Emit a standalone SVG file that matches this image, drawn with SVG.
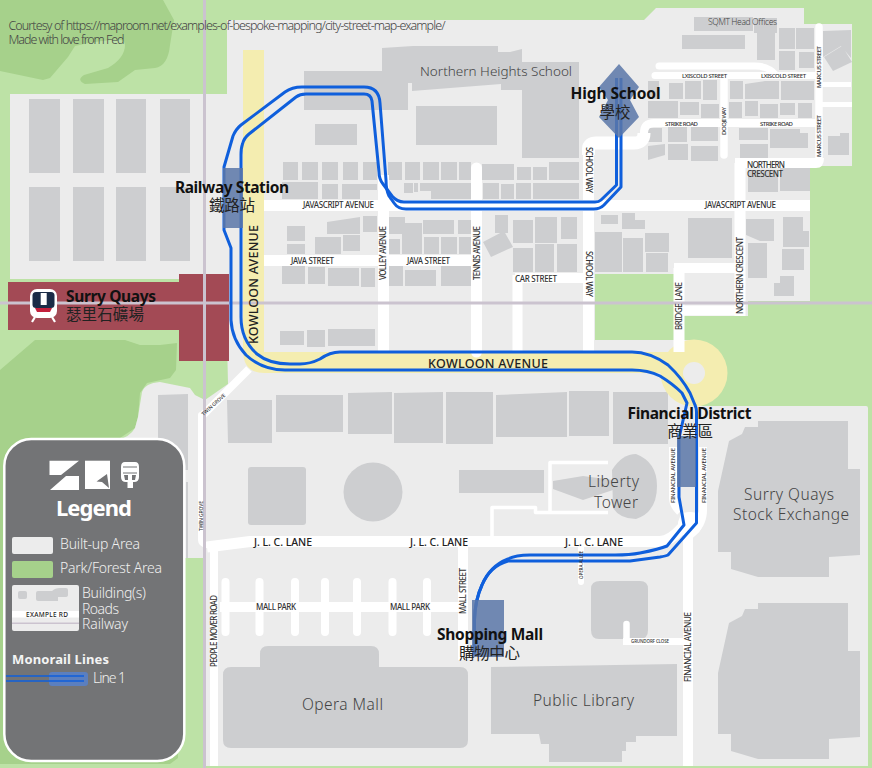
<svg xmlns="http://www.w3.org/2000/svg" width="872" height="768" viewBox="0 0 872 768">
<style>
text{font-family:"Noto Sans","Open Sans","Noto Sans CJK TC",sans-serif}
.b{fill:#cdced0;stroke:none}
.r{fill:none;stroke:#fff;stroke-linejoin:round}
.c{stroke-linecap:round}
.m{fill:none;stroke:#0f5fdc;stroke-width:3;stroke-linejoin:round}
.s{fill:#5a77a8;fill-opacity:.85}
.st{font-weight:700;font-size:15.500px;fill:#111}
.zh{font-family:"Noto Sans CJK TC","Noto Sans",sans-serif;font-size:15.500px;fill:#222}
.pl{font-size:15.500px;fill:#444;font-weight:300}
.rd{font-size:8px;fill:#333;font-weight:500}
.rb{font-size:10.500px;fill:#222;font-weight:500}
.lg{font-size:14px;fill:#f0f0f0;font-weight:300}
</style>
<rect width="872" height="768" fill="#bde2a6"/>
<g id="parks" fill="#a6d18b">
<path d="M0 0H163L174 20L170 45Q168 66 155 68L135 70L118 82L85 84Q76 80 84 75L108 68Q125 58 125 45Q125 38 110 40Q90 42 75 46L68 57L50 78L43 80L0 71Z"/>
<path d="M0 370L35 340H125L140 345H160L177 343L176 370L170 378L147 383L140 393L138 417L135 428L117 440V700H178V758L170 764H0Z"/>
</g>
<g id="built-up" fill="#ececec">
<path d="M227 20H644L656 8H804V24H852V166H810V301H748V316H684V352H674V274H595V352H227Z"/>
<path d="M227 340H690V406H866Q868 406 868 408V766H205V400L228 384Z"/>
<path d="M205 400L195 395L190 388L160 382Q145 383 142 392L138 417L135 428Q130 437 117 440V558H205Z"/>
<rect x="10" y="94" width="218" height="185"/>
</g>
<g id="buildings">
<path class="b" d="M29 99H60V173H29ZM73 99H104V173H73ZM116 99H146V173H116ZM160 99H190V173H160ZM29 187H60V261H29ZM73 187H104V261H73ZM116 187H146V261H116ZM160 187H190V261H160Z"/>
<path class="b" d="M304 71H382V48L413 46H498V52H510L522 49V62H579V158H522V90H501V84L412 91V83H408V110H304Z"/>
<path class="b" d="M416 106H497V145H416ZM315 124H357V145H315Z"/>
<path class="b" d="M283 162h15v18h-15zM302 162h16v18h-16zM322 162h16v18h-16zM343 162h15v18h-15zM363 162h14v18h-14zM388 162h14v18h-14zM405 162h15v18h-15zM423 162h16v18h-16zM441 162h16v18h-16zM459 162h12v18h-12zM482 164h32v16h-32zM517 167h14v13h-14zM533 167h14v13h-14zM549 162h30v18h-30z"/>
<path class="b" d="M282 182h36v17h-36zM322 184h16v15h-16zM342 184h35v6h-17v9h-18zM404 183h9v10h-9zM414 183h4v9h-4zM420 183h51v16h-40v-8h-11zM483 183h16v16h-16zM501 184h13v15h-13zM516 183h15v16h-15zM533 183h46v16h-46z"/>
<path class="b" d="M287 226h18v15h-18zM287 244h18v10h-18zM327 222l33-5v17h-33zM363 216h14v16h-14zM315 237h26v17h-26zM343 235h17v16h-17zM389 217h16v17h-16zM389 239h11v15h-11zM402 234v-11h20v31h-20zM423 220h31v14h-31zM458 220h13v14h-13zM424 237h15v17h-15zM441 237h16v17h-16zM459 237h12v17h-12z"/>
<path class="b" d="M282 266h23v18h-23zM308 267h17v17h-17zM328 268h31v18h-31zM361 268h14v19h-14zM389 266h14v20h-14zM405 270h31v16h-31zM441 266h30v20h-30zM280 331h24v14h-24zM307 330h18v17h-18zM328 329h47v17h-47z"/>
<path class="b" d="M495 215h13v18h-13zM483 242l21-11l9 16l-22 10zM513 220h20v23h-20zM535 217h22v26h-22zM561 217h16v22h-16zM513 248h20v24h-20zM535 244h19v28h-19zM557 244h20v28h-20zM601 215h17v9h-17zM622 213h13v7h10v9h-23zM595 232h27v40h-27zM623 238h20v34h-20zM645 233h24v19h-24zM646 253h22v19h-22zM688 218h44v40h-44zM746 219h28v22h-14l-14-6zM748 243h19v35h-19zM783 217h20v14h6v16h-26zM782 249h22v21h-22zM774 283h6v-7h14v20h-20z"/>
<path class="b" d="M694 17h59v14h-59zM754 18h23v15h-2v27h-18v-27h-3zM682 35h63v14h-63zM779 28h16v21h-16zM796 28h18v21h-18zM779 51h16v19h-16zM799 52h15v16h-15zM823 31l28-1v28l-10-12l-18 11zM824 57l18-11l10 16l-19 9z"/>
<path class="b" d="M648 81h11v18h-11zM669 83h14v16h-14zM685 81h16v18h-16zM703 80h14v20h-14zM730 81h13v18h-13zM745 84l20-3h14v18h-34zM781 81h33v19h-33zM648 101h30v17h-30zM680 102h19v13h-19zM701 104h18v14h-18zM729 102h13v16h-13zM745 101h13v15h-13zM760 104h18v14h-18zM780 103h15v12h-15zM798 103h14v15h-14z"/>
<path class="b" d="M648 128h14v14h-14zM668 127h19v15h-19zM691 127h27v14h-27zM739 128h29v12h-29zM770 129h30v4h8v15h-38zM648 146l17-2v11l-17 5zM668 144h20v16h-20zM691 146h27v15h-27zM740 144h28v14h-28zM828 136h12v-3h9v22h-21zM748 170h30v22h-30zM780 168h30v23h-30z"/>
<path class="b" d="M158 395L188 394V470H158ZM186 482h2v76h-2zM227 400H272V443H228ZM276 395H343V432H276ZM348 393L392 392V434H348ZM394 393L443 392V443H394ZM446 392H493V444H446ZM496 395L567 392V437H496ZM569 391H609V436H569ZM613 392H668V444H613Z"/>
<rect class="b" x="248" y="467" width="58" height="58" rx="3"/>
<circle class="b" cx="373" cy="492" r="29.500"/>
<path class="b" d="M459 470H544V493H459ZM553 481L583 476L613 480V490L583 500L553 489Z"/>
<path class="b" d="M612 470Q622 454 636 454Q657 462 657 486Q657 512 636 519Q620 519 613 508Z"/>
<path class="b" d="M600 581H640Q648 581 648 589V630Q648 639 640 639H599Q591 639 591 630V589Q591 581 600 581Z"/>
<path class="b" d="M223 675Q223 667 231 667H260V654Q260 646 268 646H371Q379 646 379 654V667H460Q468 667 468 675V740Q468 748 460 748H231Q223 748 223 740Z"/>
<path class="b" d="M491 667L677 664V736H636V742H626V751H622V762H549V744H541L539 734H491Z"/>
<path class="b" d="M758 421H848V469H860V555L829 557V577H758L731 569V552H718V491L729 441L742 434L745 427H758Z"/>
<path class="b" d="M758 603H848V651H860V737L829 739V759H758L731 751V734H718V673L729 623L742 616L745 609H758Z"/>
</g>
<g id="avenue" fill="#f4edb0">
<path d="M243 50H264V352H694V373H264Q243 373 243 350Z"/>
<circle cx="694" cy="373" r="33.500"/>
<circle cx="694" cy="373" r="11" fill="#ececec"/>
</g>
<g id="roads">
<path class="r" stroke-width="11" d="M264 205.500H810M264 260.500H471M383.500 175V352M588.500 352V150M679 352V268M740 316V163"/>
<path class="r c" stroke-width="11" d="M476.500 168V352"/>
<path class="r" stroke-width="13" d="M588.500 155V149Q588.500 143 596 143H634Q644 143 644 133"/>
<path class="r" stroke-width="8" d="M644 133Q644 123 654 123H819"/>
<path class="r c" stroke-width="7.500" d="M819 27V158"/>
<path class="r" stroke-width="10" d="M735 163H816Q819 163 819 158"/>
<path class="r" stroke-width="10" d="M674 268H740M684 310.500H745"/>
<path class="r c" stroke-width="7" d="M655 75.500H817M659 66H755Q768 66 776 75"/>
<path class="r" stroke-width="5" d="M820 84.500H851M820 104.500H852"/>
<path class="r c" stroke-width="7.500" d="M724 79V155"/>
<path class="r" stroke-width="10" d="M515 278H585M517.500 275V352"/>
<path class="r" stroke-width="8" d="M249 369L201 417"/>
<path class="r c" stroke-width="6" d="M201 415V540Q201 544 207 545"/>
<path class="r" stroke-width="11" d="M207 547L250 541.500H660Q670 541 680 530L690 520"/>
<path class="r" stroke-width="8" d="M214 548V766"/>
<path class="r" stroke-width="10" d="M688 530V766M463 547V660"/>
<path class="r" stroke-width="10" d="M220 607H460"/>
<path class="r c" stroke-width="8" d="M225.500 582V632M259.500 582V632M295 582V632M325 582V632M357 582V632M392.500 582V632M427 582V632"/>
<path class="r" stroke-width="8" d="M673 447V498Q673 505 680 512M703 447V510Q703 525 690 535"/>
<path class="r" stroke-width="5" d="M680 515H700"/>
<circle cx="690" cy="524" r="12" fill="#fff"/>
<path class="r" stroke-width="3.500" d="M492 536V507.500H535.500V512.500H608M550 511V462.500H608"/>
<path class="r" stroke-width="7" d="M623 641.500H684"/>
<path class="r c" stroke-width="6.500" d="M626.500 624V641"/>
<path class="r c" stroke-width="6" d="M581 547V582"/>
</g>
<g id="railway" fill="#cbc3cf">
<rect x="8" y="282" width="221" height="48" fill="#a34a55"/>
<rect x="179" y="274" width="50" height="87" fill="#a34a55"/>
<rect x="203" y="0" width="3" height="768"/>
<rect x="0" y="301.500" width="872" height="3"/>
</g>
<g id="connectors">
<path class="m" d="M616.500 78V185L601 200Q599 202 595 202H404Q397 202 392 196L383 184Q379 179 379 172L372 101Q371 94 364 94H306Q300 94 296 97L249 134Q244 138 242.500 144Q241 148 241 155V317Q241 340 257 354Q269 364 290 364H300Q310 364 320 359Q330 352 340 352H632Q650 352 668 365Q682 378 690 393L695 405Q696.500 408 696.500 412V523L668 555Q666 556 660 557L630 561H508Q490 566 482 585Q475 600 474.500 620V655"/>
<path class="m" d="M621 78V187L604 205Q600 209 594 209H406Q398 209 394 203L389 196Q386 190 386 180L380 103Q379 87 364 87H302Q292 87 285 92L241 125Q236 129 233 136L224 167V230L231 248V320Q232 340 246 355Q262 370 285 370H632Q648 370 660 376Q673 384 682 393L687 403L679 438V497L684 525L667 546Q660 549 640 553Q630 555 615 555H530Q515 555 508 559Q490 566 482 585Q475 600 474.500 620V655"/>
</g>
<g id="node-railway-station">
<rect class="s" x="223" y="168" width="20" height="60"/>
<text class="st" x="175" y="193" textLength="114">Railway Station</text>
<text class="zh" x="209" y="211" textLength="46">鐵路站</text>
</g>
<g id="node-high-school">
<path class="s" d="M619 64L639 87L630 100L639 117L619 138L599 117L608 100L599 87Z"/>
<text class="st" x="570.500" y="99" textLength="90">High School</text>
<text class="zh" x="599.500" y="118" textLength="31">學校</text>
</g>
<g id="node-financial-district">
<rect class="s" x="677" y="436" width="19" height="51"/>
<text class="st" x="627.500" y="419" textLength="124">Financial District</text>
<text class="zh" x="667" y="437" textLength="46">商業區</text>
</g>
<g id="node-shopping-mall">
<rect class="s" x="472" y="600" width="32" height="57"/>
<text class="st" x="437" y="640" textLength="106">Shopping Mall</text>
<text class="zh" x="459" y="659" textLength="61">購物中心</text>
</g>
<g id="node-surry-quays">
<rect x="30" y="289" width="27" height="29" rx="7" fill="#fff"/>
<rect x="32.500" y="292" width="22" height="16" rx="3.500" fill="#1b2c47"/>
<rect x="40.700" y="293" width="6" height="12" fill="#fff"/>
<path d="M35 308H52L50 312H37Z" fill="#c3203c"/>
<path d="M35 317L32 322M52 317L55 322" stroke="#fff" stroke-width="2.200" fill="none"/>
<text class="st" x="66" y="302" textLength="90">Surry Quays</text>
<text class="zh" x="66" y="320" textLength="78">瑟里石礦場</text>
</g>
<g id="place-labels" class="pl">
<text x="420" y="76" textLength="152" style="font-size:13.500px">Northern Heights School</text>
<text x="708" y="25" textLength="69" style="font-size:8.500px">SQMT Head Offices</text>
<text x="302" y="710" textLength="81">Opera Mall</text>
<text x="533" y="706" textLength="101">Public Library</text>
<text x="588" y="487" textLength="51">Liberty</text>
<text x="594" y="508" textLength="44">Tower</text>
<text x="744" y="500" textLength="90">Surry Quays</text>
<text x="733" y="520" textLength="116">Stock Exchange</text>
</g>
<g id="road-labels">
<text class="rb" x="428" y="368" textLength="120" style="font-size:12.500px">KOWLOON AVENUE</text>
<text class="rb" transform="translate(258,344) rotate(-90)" textLength="119" style="font-size:12.500px">KOWLOON AVENUE</text>
<text class="rd" x="303" y="208" textLength="71">JAVASCRIPT AVENUE</text>
<text class="rd" x="705" y="208" textLength="71">JAVASCRIPT AVENUE</text>
<text class="rd" x="291" y="263.500" textLength="43">JAVA STREET</text>
<text class="rd" x="407" y="263.500" textLength="43">JAVA STREET</text>
<text class="rd" transform="translate(386,280) rotate(-90)" textLength="54">VOLLEY AVENUE</text>
<text class="rd" transform="translate(480,280) rotate(-90)" textLength="54">TENNIS AVENUE</text>
<text class="rd" transform="translate(586,147) rotate(90)" textLength="46">SCHOOL WAY</text>
<text class="rd" transform="translate(586,251) rotate(90)" textLength="46">SCHOOL WAY</text>
<text class="rd" x="515" y="281.500" textLength="42">CAR STREET</text>
<text class="rd" transform="translate(682,330) rotate(-90)" textLength="48" xml:space="preserve">BRIDGE  LANE</text>
<text class="rd" transform="translate(743,314) rotate(-90)" textLength="77">NORTHERN CRESCENT</text>
<text class="rd" x="747" y="167.500" textLength="38">NORTHERN</text>
<text class="rd" x="747" y="177" textLength="36">CRESCENT</text>
<text class="rd" x="682" y="78" textLength="45" style="font-size:6px">LXISCOLD STREET</text>
<text class="rd" x="761" y="78" textLength="45" style="font-size:6px">LXISCOLD STREET</text>
<text class="rd" x="665" y="125.500" textLength="33" style="font-size:6px">STRIKE ROAD</text>
<text class="rd" x="760" y="125.500" textLength="33" style="font-size:6px">STRIKE ROAD</text>
<text class="rd" transform="translate(726,135) rotate(-90)" textLength="28" style="font-size:6px">DOOJI WAY</text>
<text class="rd" transform="translate(821,88) rotate(-90)" textLength="42" style="font-size:6px">MARCUS STREET</text>
<text class="rd" transform="translate(821,157) rotate(-90)" textLength="42" style="font-size:6px">MARCUS STREET</text>
<text class="rd" transform="translate(203.500,416) rotate(-42)" textLength="30" style="font-size:5px">TWIN GROVE</text>
<text class="rd" transform="translate(203,531) rotate(-90)" textLength="30" style="font-size:5px">TWIN GROVE</text>
<text class="rb" x="254" y="545.500" textLength="58">J. L. C. LANE</text>
<text class="rb" x="410" y="545.500" textLength="58">J. L. C. LANE</text>
<text class="rb" x="565" y="545.500" textLength="58">J. L. C. LANE</text>
<text class="rd" transform="translate(216.500,667) rotate(-90)" textLength="72">PEOPLE MOVER ROAD</text>
<text class="rd" x="256" y="610" textLength="40">MALL PARK</text>
<text class="rd" x="390" y="610" textLength="40">MALL PARK</text>
<text class="rd" transform="translate(465.500,614) rotate(-90)" textLength="46">MALL STREET</text>
<text class="rd" transform="translate(675,503) rotate(-90)" textLength="55" style="font-size:6px">FINANCIAL AVENUE</text>
<text class="rd" transform="translate(706,503) rotate(-90)" textLength="55" style="font-size:6px">FINANCIAL AVENUE</text>
<text class="rd" transform="translate(690.500,682) rotate(-90)" textLength="70">FINANCIAL AVENUE</text>
<text class="rd" transform="translate(582.500,579) rotate(-90)" textLength="28" style="font-size:4.500px">OPERA ALLEE</text>
<text class="rd" x="631" y="642.500" textLength="38" style="font-size:4.500px">GRUNDORF CLOSE</text>
</g>
<g id="credit" font-size="12.500" fill="#444" font-weight="300">
<text x="8.500" y="29.500" textLength="437">Courtesy of https://maproom.net/examples-of-bespoke-mapping/city-street-map-example/</text>
<text x="8.500" y="43.500" textLength="116">Made with love from Fed</text>
</g>
<g id="legend">
<rect x="4.300" y="439" width="180" height="322" rx="27" fill="#737476" stroke="#fff" stroke-width="2.500"/>
<path d="M49.500 460.700H79L61 475H49.500ZM79 476V490H50L66 476Z" fill="#fff"/>
<path d="M85 460.700H110V489H85Z" fill="#fff"/>
<path d="M96.500 481.500L107 474L109 488L102 482Z" fill="#737476"/>
<path d="M125 462H135Q139 462 139 467V477Q139 482 134 482H133V488H127.500V482H126Q121 482 121 477V467Q121 462 125 462Z" fill="#fff"/>
<path d="M123 467H137M123 473H137" stroke="#737476" stroke-width="1" fill="none"/>
<path d="M124 475H128V480H125ZM136 475H132V480H135Z" fill="#737476"/>
<text x="56" y="516" textLength="76" font-size="22" font-weight="700" fill="#fff">Legend</text>
<rect x="12" y="537" width="41" height="17" rx="2" fill="#ececec"/>
<text class="lg" x="60" y="549" textLength="80">Built-up Area</text>
<rect x="12" y="561" width="41" height="17" rx="2" fill="#a6d18b"/>
<text class="lg" x="60" y="573" textLength="102">Park/Forest Area</text>
<rect x="12" y="585" width="67" height="46" rx="2" fill="#ececec"/>
<rect x="18" y="591" width="9" height="8" rx="2" fill="#cdced0"/>
<path d="M38 591H52Q55 588 60 588H66Q68 588 68 590V595Q68 597 65 597H58V601H38Q36 601 36 599V593Q36 591 38 591Z" fill="#cdced0"/>
<rect x="12" y="611" width="67" height="6.500" fill="#fff"/>
<rect x="12" y="622.500" width="67" height="1.500" fill="#cbc3cf"/>
<text x="26" y="616.500" textLength="42" font-size="6.500" font-weight="500" fill="#222">EXAMPLE RD</text>
<text class="lg" x="82" y="598" textLength="64">Building(s)</text>
<text class="lg" x="82" y="614" textLength="37">Roads</text>
<text class="lg" x="82" y="629" textLength="46">Railway</text>
<text x="12" y="664" textLength="97" font-size="13" font-weight="700" fill="#f4f4f4">Monorail Lines</text>
<rect x="49" y="672" width="39" height="14" rx="3" fill="#5b7fbf"/>
<path d="M6 676H84M6 681H84" stroke="#0f5fdc" stroke-width="1.500" fill="none"/>
<text class="lg" x="93" y="683" textLength="33">Line 1</text>
</g>
</svg>
